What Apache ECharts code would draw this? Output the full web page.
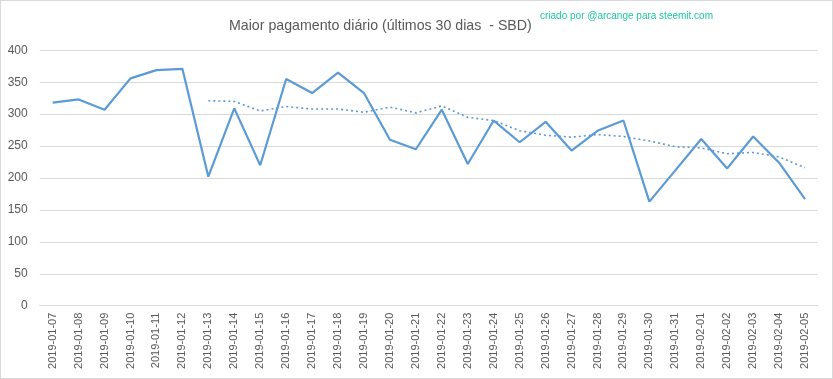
<!DOCTYPE html>
<html><head><meta charset="utf-8">
<script src="https://cdn.jsdelivr.net/npm/echarts@6/dist/echarts.min.js"></script>
<style>html,body{margin:0;padding:0;background:#fff;}#c{width:833px;height:379px;box-sizing:border-box;border:1px solid #d9d9d9;}</style>
</head><body><div id="c"></div>
<script>
const categories = ["2019-01-07","2019-01-08","2019-01-09","2019-01-10","2019-01-11","2019-01-12","2019-01-13","2019-01-14","2019-01-15","2019-01-16","2019-01-17","2019-01-18","2019-01-19","2019-01-20","2019-01-21","2019-01-22","2019-01-23","2019-01-24","2019-01-25","2019-01-26","2019-01-27","2019-01-28","2019-01-29","2019-01-30","2019-01-31","2019-02-01","2019-02-02","2019-02-03","2019-02-04","2019-02-05"];
const maxPayout = [318,323,307,356,369,371,202,309,220,355,333,365,333,260,245,307,222,290,256,288,243,274,290,163,212,261,215,265,224,167];
const movingAvg = [null,null,null,null,null,null,321,320,305,312,308,308,303,311,302,313,295,290,274,267,264,268,265,258,249,247,238,240,233,216];
const yTicks = {min:0, max:400, interval:50};

const chart = echarts.init(document.getElementById('c'));
const gray = '#595959';
chart.setOption({
  animation:false,
  title:[{text:'Maior pagamento diário (últimos 30 dias  - SBD)', left:223, top:13,
    textStyle:{fontFamily:'Liberation Sans, sans-serif', fontSize:14.2, fontWeight:'normal', color:gray}},
    {text:'criado por @arcange para steemit.com', left:534, top:5,
    textStyle:{fontFamily:'Liberation Sans, sans-serif', fontSize:10, fontWeight:'normal', color:'#1ec8a0'}}],
  grid:{left:38.7, right:14, top:49.3, bottom:72.3, containLabel:false},
  xAxis:{type:'category', data:categories, boundaryGap:true,
    axisLine:{lineStyle:{color:'#d9d9d9'}}, axisTick:{show:false},
    axisLabel:{rotate:90, color:gray, fontSize:11, fontFamily:'Liberation Sans, sans-serif', margin:7, interval:0}},
  yAxis:{type:'value', min:yTicks.min, max:yTicks.max, interval:yTicks.interval,
    axisLine:{show:false}, axisTick:{show:false},
    axisLabel:{color:gray, fontSize:12, fontFamily:'Liberation Sans, sans-serif', margin:12},
    splitLine:{lineStyle:{color:'#d9d9d9'}}},
  series:[
    {type:'line', data:maxPayout, symbol:'none', lineStyle:{color:'#5b9bd5', width:2.2}},
    {type:'line', data:movingAvg, symbol:'none', lineStyle:{color:'#5b9bd5', width:1.6, type:[2,3]}}
  ]
});
</script></body></html>
